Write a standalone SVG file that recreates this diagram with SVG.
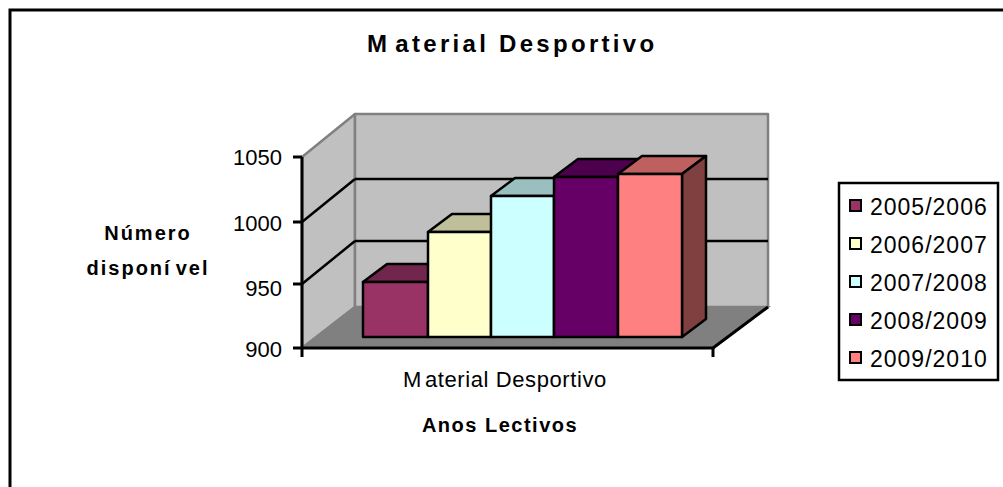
<svg xmlns="http://www.w3.org/2000/svg" width="1003" height="487" viewBox="0 0 1003 487">
<style>
text{font-family:"Liberation Sans",Arial,sans-serif;fill:#000}
.bold{font-weight:bold}
.wall{fill:#C0C0C0;stroke:#808080;stroke-width:2.5;stroke-linejoin:round}
.floor{fill:#808080;stroke:#808080;stroke-width:2}
.grid{stroke:#000;stroke-width:2.5;fill:none}
.axis{stroke:#000;stroke-width:3;fill:none}
.bar{stroke:#000;stroke-width:2.5;stroke-linejoin:round}
.tick{font-size:22px;text-anchor:end}
.leg{font-size:23px;letter-spacing:1px}
.mk{stroke:#000;stroke-width:2}
</style>
<rect x="10" y="10" width="1010" height="500" fill="#fff" stroke="#000" stroke-width="3"/>
<g id="title"><text class="bold" x="367" y="52" font-size="24" letter-spacing="3.3">M<tspan dx="5">aterial Desportivo</tspan></text></g>
<g id="plot">
<polygon class="wall" points="302,157 355,114 355,307 302,348"/>
<rect class="wall" x="355" y="114" width="413" height="193"/>
<polygon class="floor" points="302,348 355,307 768,307 713,348"/>
<line class="grid" x1="302" y1="222" x2="355" y2="179"/>
<line class="grid" x1="355" y1="179" x2="768" y2="179"/>
<line class="grid" x1="302" y1="284" x2="355" y2="241"/>
<line class="grid" x1="355" y1="241" x2="768" y2="241"/>
<line class="axis" x1="713" y1="348" x2="768" y2="307"/>
<line class="axis" x1="302" y1="348" x2="713" y2="348"/>
<line class="axis" x1="713" y1="348" x2="713" y2="357"/>
<line class="axis" x1="302" y1="157" x2="302" y2="357"/>
<line class="axis" x1="293" y1="157" x2="302" y2="157"/>
<line class="axis" x1="293" y1="222" x2="302" y2="222"/>
<line class="axis" x1="293" y1="284" x2="302" y2="284"/>
<line class="axis" x1="293" y1="348" x2="302" y2="348"/>
<text class="tick" x="282" y="165">1050</text>
<text class="tick" x="282" y="231">1000</text>
<text class="tick" x="282" y="296">950</text>
<text class="tick" x="282" y="357">900</text>
</g>
<g id="bar-2005">
<polygon class="bar" fill="#73264D" points="363,282 387,264 452,264 428,282"/>
<rect class="bar" fill="#993366" x="363" y="282" width="65" height="55"/>
</g>
<g id="bar-2006">
<polygon class="bar" fill="#BFBF99" points="428,232 452,214 515,214 491,232"/>
<rect class="bar" fill="#FFFFCC" x="428" y="232" width="63" height="105"/>
</g>
<g id="bar-2007">
<polygon class="bar" fill="#99BFBF" points="491,196 515,178 578,178 554,196"/>
<rect class="bar" fill="#CCFFFF" x="491" y="196" width="63" height="141"/>
</g>
<g id="bar-2008">
<polygon class="bar" fill="#4D004D" points="554,177 578,159 642,159 618,177"/>
<rect class="bar" fill="#660066" x="554" y="177" width="64" height="160"/>
</g>
<g id="bar-2009">
<polygon class="bar" fill="#BF6060" points="618,174 642,156 706,156 682,174"/>
<polygon class="bar" fill="#804040" points="682,174 706,156 706,319 682,337"/>
<rect class="bar" fill="#FF8080" x="618" y="174" width="64" height="163"/>
</g>
<g id="axis-labels">
<text class="bold" x="148" y="240" font-size="20" letter-spacing="2" text-anchor="middle">Número</text>
<text class="bold" x="148" y="275" font-size="20" letter-spacing="2" text-anchor="middle">disponí<tspan dx="4">vel</tspan></text>
<text x="403" y="387" font-size="22" letter-spacing="0.6">M<tspan dx="3">aterial Desportivo</tspan></text>
<text class="bold" x="500" y="432" font-size="20" letter-spacing="1.5" text-anchor="middle">Anos Lectivos</text>
</g>
<g id="legend">
<rect x="839" y="183" width="159" height="197" fill="#fff" stroke="#000" stroke-width="2.5"/>
<rect class="mk" fill="#993366" x="850" y="200" width="11" height="11"/>
<text class="leg" x="870" y="215">2005/2006</text>
<rect class="mk" fill="#FFFFCC" x="850" y="238" width="11" height="11"/>
<text class="leg" x="870" y="253">2006/2007</text>
<rect class="mk" fill="#CCFFFF" x="850" y="276" width="11" height="11"/>
<text class="leg" x="870" y="291">2007/2008</text>
<rect class="mk" fill="#660066" x="850" y="314" width="11" height="11"/>
<text class="leg" x="870" y="329">2008/2009</text>
<rect class="mk" fill="#FF8080" x="850" y="352" width="11" height="11"/>
<text class="leg" x="870" y="367">2009/2010</text>
</g>
</svg>
